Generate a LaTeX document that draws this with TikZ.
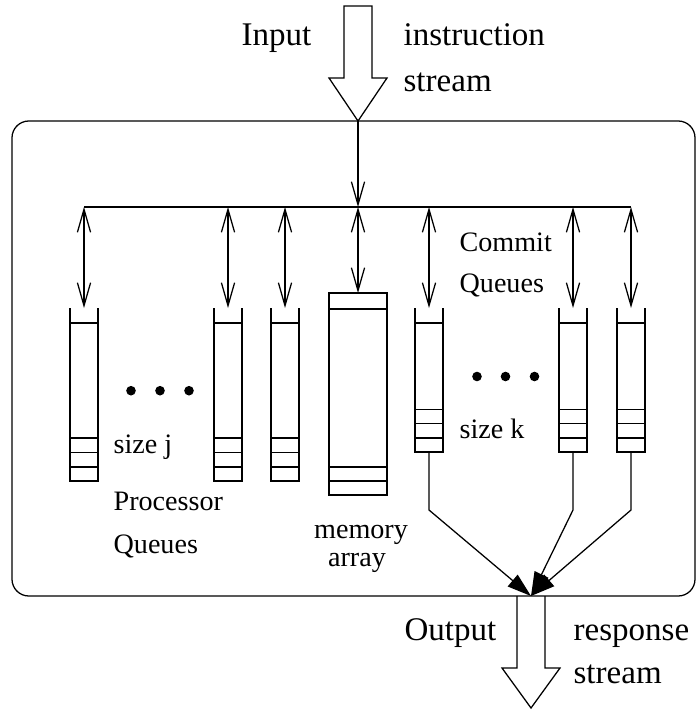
\documentclass[tikz,border=0pt]{standalone}
\usepackage{fontspec}
\setmainfont{Liberation Serif}
\usetikzlibrary{arrows.meta}
\usetikzlibrary{positioning}
\tikzstyle{biglabel} = [inner sep=0pt, font=\fontsize{23.5}{28}\selectfont]
\tikzstyle{smalllabel} = [inner sep=0pt, font=\fontsize{20}{24}\selectfont]
\tikzstyle{arrow} = [-{Straight Barb[length=0.575cm,width=0.33cm]}]
\tikzstyle{busarrow} = [{Straight Barb[length=0.575cm,width=0.33cm]}-{Straight Barb[length=0.575cm,width=0.33cm]}]
\tikzstyle{outarrow} = [-{Triangle[length=0.6cm,width=0.38cm]}]
\begin{document}
\begin{tikzpicture}[x=0.025cm, y=-0.025cm, line width=0.9pt, line join=miter]
  \useasboundingbox (0,0) rectangle (697,710);
  % the unit
  \draw [rounded corners=0.42cm] (12,121) rectangle (695,596);
  \coordinate (intip) at (358,121);
  \coordinate (merge) at (531,596);
  \coordinate (busL) at (84,207);
  \coordinate (busR) at (631,207);
  % big input and output arrows
  \draw (intip) -- ++(-29,-43) -- ++(15,0) -- ++(0,-72) -- ++(28,0) -- ++(0,72) -- ++(15,0) -- cycle;
  \draw (merge) ++(-14,0) -- ++(0,72) -- ++(-15,0) -- ++(29,40) -- ++(29,-40) -- ++(-15,0) -- ++(0,-72);
  \node (inlabel) [biglabel, anchor=base east] at (312,46) {Input};
  \node (instr1) [biglabel, anchor=base west] at (403,46) {instruction};
  \node (instr2) [biglabel, anchor=base west] at (403,91) {stream};
  \node (outlabel) [biglabel, anchor=base east] at (497,640) {Output};
  \node (resp1) [biglabel, anchor=base west] at (573,640) {response};
  \node (resp2) [biglabel, anchor=base west] at (573,683) {stream};
  % bus
  \draw [arrow] (intip) -- (intip |- busL);
  \draw (busL) -- (busR);
  % processor queues
  \foreach \x/\n in {84/pq1, 228/pq2, 285/pq3} {
    \coordinate (\n) at (\x,308);
    \draw (\x-14,308) |- (\x+14,481) -- (\x+14,308);
    \foreach \y in {323,438,452.5,467} \draw (\x-14,\y) -- (\x+14,\y);
    \draw [busarrow] (\n |- busL) -- (\n);
  }
  % memory array
  \coordinate (memtop) at (358,293);
  \draw (329,293) rectangle (387,495);
  \foreach \y in {309,467,481} \draw (329,\y) -- (387,\y);
  \draw [busarrow] (memtop |- busL) -- (memtop);
  % commit queues
  \foreach \x/\n in {429/cq1, 573/cq2, 631/cq3} {
    \coordinate (\n) at (\x,308);
    \coordinate (\n bot) at (\x,452);
    \draw (\x-14,308) |- (\x+14,452) -- (\x+14,308);
    \foreach \y in {323,409.3,423.7,438} \draw (\x-14,\y) -- (\x+14,\y);
    \draw [busarrow] (\n |- busL) -- (\n);
    \draw [outarrow] (\n bot) -- ++(0,58) -- (merge);
  }
  % dots
  \foreach \x in {131,160,189} \fill (\x,390.7) circle [radius=0.12cm];
  \foreach \x in {477,505.5,534.5} \fill (\x,376.5) circle [radius=0.12cm];
  % labels
  \node (commit1) [smalllabel, anchor=base west] at (459,251) {Commit};
  \node (commit2) [smalllabel, anchor=base west] at (459,292) {Queues};
  \node (sizej) [smalllabel, anchor=base west] at (113,453) {size j};
  \node (sizek) [smalllabel, anchor=base west] at (459,438) {size k};
  \node (proc1) [smalllabel, anchor=base west] at (113,510) {Processor};
  \node (proc2) [smalllabel, anchor=base west] at (113,553) {Queues};
  \node (mem1) [smalllabel, anchor=base] at (361,538) {memory};
  \node (mem2) [smalllabel, anchor=base] at (357,566) {array};
\end{tikzpicture}
\end{document}
